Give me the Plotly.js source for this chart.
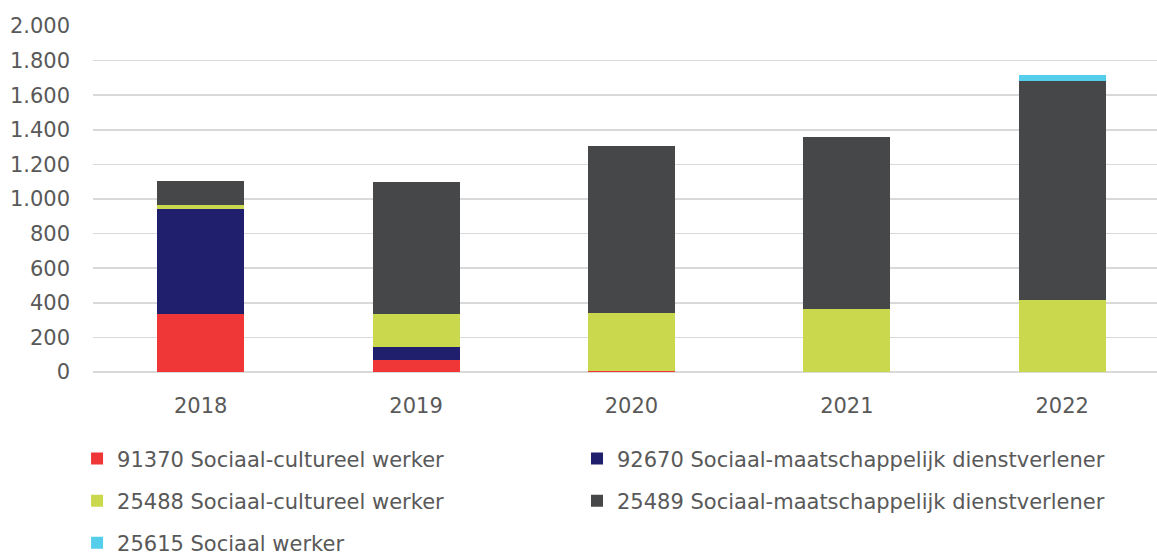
<!DOCTYPE html>
<html>
<head>
<meta charset="utf-8">
<script src="https://cdn.plot.ly/plotly-3.0.1.min.js"></script>
<style>html,body{margin:0;padding:0;background:#fff;}#chart{width:1157px;height:557px;}</style>
</head>
<body>
<div id="chart"></div>
<script>
const years = ['2018', '2019', '2020', '2021', '2022'];
const names = [
  '91370 Sociaal-cultureel werker',
  '92670 Sociaal-maatschappelijk dienstverlener',
  '25488 Sociaal-cultureel werker',
  '25489 Sociaal-maatschappelijk dienstverlener',
  '25615 Sociaal werker'
];
const v91370 = [334, 69, 3, 0, 0];
const v92670 = [611, 77, 5, 0, 0];
const v25488 = [21, 192, 332, 363, 417];
const v25489 = [137, 759, 964, 995, 1268];
const v25615 = [0, 0, 0, 0, 31];
const yTicks = [0, 200, 400, 600, 800, 1000, 1200, 1400, 1600, 1800, 2000];

const colors = ['#EF3737', '#1F1F6E', '#C9D84D', '#464749', '#54CEEA'];
const series = [v91370, v92670, v25488, v25489, v25615];
const legendIds = ['legend', 'legend2', 'legend3', 'legend4', 'legend5'];
// legend grid: column x and row y (container fractions)
const legendX = [0.0666, 0.4987, 0.0666, 0.4987, 0.0666];
const legendY = [0.176, 0.176, 0.1005, 0.1005, 0.0251];

const FONT = '"DejaVu Sans", sans-serif';
const traces = series.map((vals, i) => ({
  type: 'bar',
  x: years,
  y: vals,
  name: names[i],
  legend: legendIds[i],
  marker: {color: colors[i], line: {width: 0}},
  hoverinfo: 'x+y+name'
}));

const layout = {
  width: 1157,
  height: 557,
  margin: {l: 92.5, r: 0, t: 26, b: 184.5, autoexpand: false},
  paper_bgcolor: '#ffffff',
  plot_bgcolor: '#ffffff',
  barmode: 'stack',
  bargap: 0.596,
  separators: ',.',
  font: {family: FONT, size: 21, color: '#595959'},
  xaxis: {
    type: 'category',
    range: [-0.5, 4.44],
    showgrid: false,
    zeroline: false,
    showline: false,
    ticks: '',
    ticklabelstandoff: 19,
    tickfont: {family: FONT, size: 21, color: '#595959'}
  },
  yaxis: {
    range: [0, 2000],
    tickvals: yTicks,
    tickformat: ',d',
    showgrid: true,
    gridcolor: '#D9D9D9',
    gridwidth: 1.5,
    zeroline: true,
    zerolinecolor: '#D9D9D9',
    zerolinewidth: 1.5,
    showline: false,
    ticks: '',
    ticklabelstandoff: 22,
    tickfont: {family: FONT, size: 21, color: '#595959'}
  },
  showlegend: true
};

legendIds.forEach((id, i) => {
  layout[id] = {
    orientation: 'v',
    xref: 'container',
    yref: 'container',
    xanchor: 'left',
    yanchor: 'middle',
    x: legendX[i],
    y: legendY[i],
    font: {family: FONT, size: 21, color: '#595959'},
    bgcolor: 'rgba(0,0,0,0)',
    borderwidth: 0
  };
});

Plotly.newPlot('chart', traces, layout, {displayModeBar: false, staticPlot: true});
</script>
</body>
</html>
